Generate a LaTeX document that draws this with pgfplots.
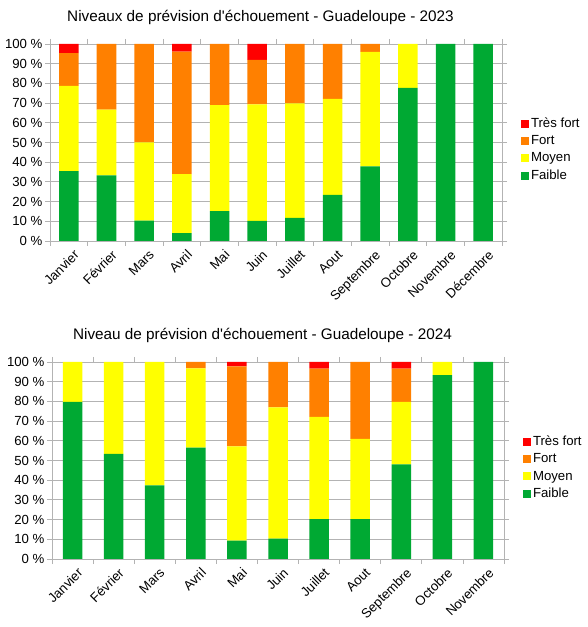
\documentclass[border=0pt]{standalone}
\usepackage{fontspec}
\setmainfont{Liberation Sans}[Ligatures=TeXOff]
\usepackage{pgfplots}
\usepackage{pgfplotstable}
\pgfplotsset{compat=1.18}

\definecolor{cFaible}{HTML}{00A933}
\definecolor{cMoyen}{HTML}{FFFF00}
\definecolor{cFort}{HTML}{FF8000}
\definecolor{cTresFort}{HTML}{FF0000}
\definecolor{gridgray}{HTML}{B3B3B3}

% 2023
\pgfplotstableread{
x Faible Moyen Fort TresFort
0  35.5 43.2 16.7 4.6
1  33.3 33.4 33.3 0
2  10.3 39.8 49.9 0
3  4.0  30.0 62.1 3.9
4  15.2 53.8 31.0 0
5  10.2 59.2 22.5 8.1
6  11.8 58.1 30.1 0
7  23.4 48.8 27.8 0
8  37.9 58.1 4.0  0
9  77.7 22.3 0    0
10 100  0    0    0
11 100  0    0    0
}\dataA

% 2024
\pgfplotstableread{
x Faible Moyen Fort TresFort
0  79.8 20.2 0    0
1  53.3 46.7 0    0
2  37.4 62.6 0    0
3  56.5 40.3 3.2  0
4  9.3  47.9 40.6 2.2
5  10.3 66.7 23.0 0
6  20.3 51.9 24.4 3.4
7  20.3 40.7 39.0 0
8  48.0 31.7 16.9 3.4
9  93.4 6.6  0    0
10 100  0    0    0
}\dataB

\newcommand{\lbl}{\fontsize{13.2}{15}\selectfont}

\pgfplotsset{
  niveaux/.style={
    scale only axis, width=452pt, height=197pt,
    anchor=south west,
    ybar stacked, bar width=19.5pt,
    ymin=0, ymax=100, ytick={0,10,...,100},
    /pgf/number format/assume math mode=true,
    yticklabel={\pgfmathprintnumber{\tick}~\%},
    ymajorgrids, grid style={gridgray, line width=0.8pt},
    axis line style={gridgray, line width=0.8pt},
    tick align=outside, major tick length=5pt, minor tick length=5pt,
    major tick style={gridgray, line width=0.8pt},
    major x tick style={draw=none},
    minor x tick style={gridgray, line width=0.8pt},
    tick label style={font=\lbl, black},
    yticklabel style={xshift=1pt},
    xticklabel style={rotate=45, anchor=north east, inner sep=1pt,
      yshift=-4pt, xshift=2pt},
    legend style={at={(1.035,0.464)}, anchor=west, draw=none, fill=none,
      font=\lbl, row sep=2.5pt, cells={anchor=west}},
    reverse legend,
    legend image code/.code={\fill[##1] (0pt,-4pt) rectangle (8pt,4pt);},
  },
}

\begin{document}
\begin{tikzpicture}
\path[use as bounding box] (0,0) rectangle (587pt,627pt);

\node[font=\fontsize{15.3}{18}\selectfont] at (260.5pt,609.5pt)
  {Niveaux de prévision d'échouement - Guadeloupe - 2023};
\node[font=\fontsize{15.3}{18}\selectfont] at (262.5pt,291.5pt)
  {Niveau de prévision d'échouement - Guadeloupe - 2024};

\begin{axis}[niveaux, at={(50pt,386pt)},
    xmin=-0.5, xmax=11.5,
    xtick={0,...,11},
    minor xtick={-0.5,0.5,...,11.5},
    xticklabels={Janvier,Février,Mars,Avril,Mai,Juin,Juillet,Aout,Septembre,Octobre,Novembre,Décembre},
  ]
  \addplot[fill=cFaible, draw=none] table[x=x, y=Faible] {\dataA};
  \addplot[fill=cMoyen, draw=none] table[x=x, y=Moyen] {\dataA};
  \addplot[fill=cFort, draw=none] table[x=x, y=Fort] {\dataA};
  \addplot[fill=cTresFort, draw=none] table[x=x, y=TresFort] {\dataA};
  \legend{Faible, Moyen, Fort, Très fort}
\end{axis}

\begin{axis}[niveaux, at={(52pt,68pt)},
    xmin=-0.5, xmax=10.5,
    xtick={0,...,10},
    minor xtick={-0.5,0.5,...,10.5},
    xticklabels={Janvier,Février,Mars,Avril,Mai,Juin,Juillet,Aout,Septembre,Octobre,Novembre},
  ]
  \addplot[fill=cFaible, draw=none] table[x=x, y=Faible] {\dataB};
  \addplot[fill=cMoyen, draw=none] table[x=x, y=Moyen] {\dataB};
  \addplot[fill=cFort, draw=none] table[x=x, y=Fort] {\dataB};
  \addplot[fill=cTresFort, draw=none] table[x=x, y=TresFort] {\dataB};
  \legend{Faible, Moyen, Fort, Très fort}
\end{axis}
\end{tikzpicture}
\end{document}
